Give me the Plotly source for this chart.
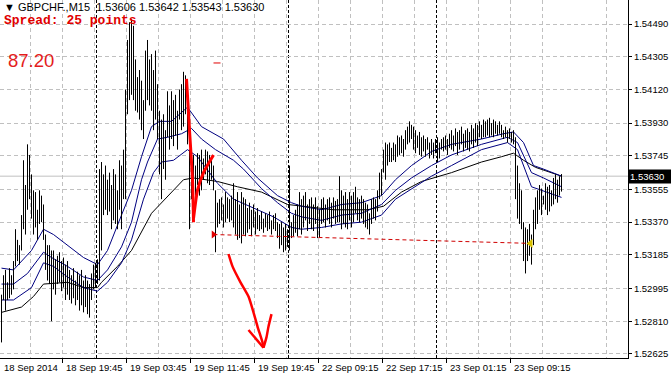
import plotly.graph_objects as go

# ---------------- data ----------------
SYMBOL_TEXT = "\u25BC GBPCHF.,M15&nbsp; 1.53606 1.53642 1.53543 1.53630"
SPREAD_TEXT = "Spread: 25 points"
BIG_TEXT = "87.20"
LAST_PRICE = 1.53630

HIGH = [
    1.5296, 1.5307, 1.5310, 1.5303, 1.5311, 1.5307, 1.5315, 1.5333, 1.5327, 1.5324,
    1.5341, 1.5372, 1.5358, 1.5381, 1.5375, 1.5364, 1.5355, 1.5354, 1.5344, 1.5355,
    1.5352, 1.5347, 1.5330, 1.5324, 1.5324, 1.5321, 1.5321, 1.5316, 1.5318, 1.5320,
    1.5315, 1.5317, 1.5313, 1.5315, 1.5310, 1.5307, 1.5311, 1.5304, 1.5309, 1.5307,
    1.5310, 1.5304, 1.5307, 1.5304, 1.5302, 1.5308, 1.5313, 1.5314, 1.5316, 1.5367,
    1.5371, 1.5364, 1.5369, 1.5361, 1.5365, 1.5358, 1.5367, 1.5364, 1.5355, 1.5372,
    1.5369, 1.5378, 1.5412, 1.5440, 1.5450, 1.5452, 1.5448, 1.5429, 1.5419, 1.5423,
    1.5417, 1.5406, 1.5434, 1.5440, 1.5429, 1.5432, 1.5423, 1.5434, 1.5415, 1.5400,
    1.5395, 1.5398, 1.5389, 1.5411, 1.5403, 1.5411, 1.5406, 1.5409, 1.5400, 1.5412,
    1.5415, 1.5422, 1.5420, 1.5406, 1.5378, 1.5372, 1.5375, 1.5369, 1.5376, 1.5375,
    1.5378, 1.5373, 1.5378, 1.5377, 1.5375, 1.5372, 1.5369, 1.5355, 1.5348, 1.5350,
    1.5351, 1.5347, 1.5354, 1.5351, 1.5350, 1.5352, 1.5359, 1.5350, 1.5354, 1.5347,
    1.5354, 1.5351, 1.5350, 1.5345, 1.5348, 1.5344, 1.5347, 1.5343, 1.5345, 1.5341,
    1.5343, 1.5339, 1.5342, 1.5341, 1.5343, 1.5338, 1.5341, 1.5342, 1.5337, 1.5336,
    1.5337, 1.5334, 1.5336, 1.5333, 1.5369, 1.5337, 1.5341, 1.5344, 1.5347, 1.5354,
    1.5350, 1.5352, 1.5354, 1.5347, 1.5350, 1.5351, 1.5347, 1.5351, 1.5346, 1.5344,
    1.5350, 1.5351, 1.5347, 1.5350, 1.5351, 1.5348, 1.5351, 1.5349, 1.5350, 1.5363,
    1.5355, 1.5352, 1.5354, 1.5350, 1.5354, 1.5352, 1.5354, 1.5357, 1.5351, 1.5350,
    1.5352, 1.5350, 1.5348, 1.5347, 1.5342, 1.5350, 1.5351, 1.5350, 1.5355, 1.5365,
    1.5367, 1.5378, 1.5382, 1.5381, 1.5382, 1.5379, 1.5382, 1.5381, 1.5386, 1.5385,
    1.5386, 1.5384, 1.5389, 1.5391, 1.5394, 1.5392, 1.5391, 1.5389, 1.5386, 1.5388,
    1.5385, 1.5386, 1.5384, 1.5385, 1.5382, 1.5384, 1.5382, 1.5384, 1.5385, 1.5382,
    1.5384, 1.5385, 1.5386, 1.5384, 1.5387, 1.5389, 1.5386, 1.5390, 1.5388, 1.5389,
    1.5391, 1.5387, 1.5389, 1.5390, 1.5388, 1.5392, 1.5390, 1.5393, 1.5392, 1.5394,
    1.5392, 1.5395, 1.5394, 1.5395, 1.5396, 1.5393, 1.5395, 1.5394, 1.5392, 1.5394,
    1.5392, 1.5389, 1.5391, 1.5389, 1.5390, 1.5388, 1.5389, 1.5385, 1.5369, 1.5359,
    1.5355, 1.5337, 1.5334, 1.5333, 1.5336, 1.5330, 1.5344, 1.5351, 1.5355, 1.5358,
    1.5356, 1.5352, 1.5359, 1.5357, 1.5358, 1.5355, 1.5362, 1.5364, 1.5361, 1.5363,
    1.53642,
]

LOW = [
    1.5269, 1.5293, 1.5287, 1.5293, 1.5294, 1.5296, 1.5299, 1.5312, 1.5315, 1.5313,
    1.5321, 1.5333, 1.5330, 1.5344, 1.5350, 1.5339, 1.5330, 1.5334, 1.5327, 1.5336,
    1.5337, 1.5327, 1.5310, 1.5304, 1.5302, 1.5281, 1.5299, 1.5296, 1.5302, 1.5303,
    1.5298, 1.5300, 1.5293, 1.5296, 1.5293, 1.5291, 1.5294, 1.5290, 1.5293, 1.5287,
    1.5290, 1.5286, 1.5289, 1.5285, 1.5283, 1.5293, 1.5299, 1.5300, 1.5302, 1.5304,
    1.5321, 1.5341, 1.5344, 1.5341, 1.5343, 1.5333, 1.5338, 1.5336, 1.5333, 1.5344,
    1.5333, 1.5350, 1.5350, 1.5398, 1.5406, 1.5409, 1.5406, 1.5400, 1.5399, 1.5395,
    1.5389, 1.5384, 1.5400, 1.5406, 1.5403, 1.5400, 1.5389, 1.5395, 1.5384, 1.5364,
    1.5350, 1.5367, 1.5361, 1.5385, 1.5378, 1.5384, 1.5380, 1.5386, 1.5378, 1.5395,
    1.5389, 1.5391, 1.5398, 1.5381, 1.5333, 1.5350, 1.5355, 1.5352, 1.5358, 1.5352,
    1.5355, 1.5361, 1.5364, 1.5359, 1.5358, 1.5361, 1.5355, 1.5320, 1.5334, 1.5336,
    1.5338, 1.5334, 1.5337, 1.5339, 1.5337, 1.5338, 1.5334, 1.5330, 1.5327, 1.5328,
    1.5325, 1.5330, 1.5329, 1.5331, 1.5333, 1.5329, 1.5334, 1.5330, 1.5333, 1.5332,
    1.5333, 1.5331, 1.5334, 1.5332, 1.5333, 1.5330, 1.5333, 1.5332, 1.5328, 1.5322,
    1.5324, 1.5320, 1.5321, 1.5323, 1.5321, 1.5328, 1.5329, 1.5331, 1.5329, 1.5333,
    1.5330, 1.5334, 1.5338, 1.5332, 1.5336, 1.5333, 1.5332, 1.5336, 1.5328, 1.5328,
    1.5336, 1.5337, 1.5334, 1.5338, 1.5336, 1.5334, 1.5339, 1.5336, 1.5337, 1.5337,
    1.5333, 1.5336, 1.5334, 1.5333, 1.5338, 1.5334, 1.5337, 1.5342, 1.5338, 1.5337,
    1.5339, 1.5336, 1.5334, 1.5333, 1.5330, 1.5336, 1.5339, 1.5338, 1.5343, 1.5350,
    1.5352, 1.5365, 1.5361, 1.5369, 1.5371, 1.5371, 1.5372, 1.5371, 1.5374, 1.5375,
    1.5376, 1.5374, 1.5378, 1.5381, 1.5382, 1.5384, 1.5378, 1.5376, 1.5379, 1.5375,
    1.5374, 1.5377, 1.5374, 1.5378, 1.5373, 1.5375, 1.5373, 1.5376, 1.5371, 1.5373,
    1.5378, 1.5377, 1.5378, 1.5375, 1.5379, 1.5378, 1.5377, 1.5380, 1.5375, 1.5378,
    1.5381, 1.5377, 1.5379, 1.5378, 1.5377, 1.5381, 1.5379, 1.5382, 1.5380, 1.5385,
    1.5384, 1.5385, 1.5385, 1.5386, 1.5385, 1.5386, 1.5385, 1.5387, 1.5386, 1.5387,
    1.5385, 1.5384, 1.5385, 1.5382, 1.5384, 1.5382, 1.5381, 1.5350, 1.5339, 1.5336,
    1.5333, 1.5315, 1.5308, 1.5315, 1.5318, 1.5313, 1.5324, 1.5333, 1.5336, 1.5344,
    1.5341, 1.5347, 1.5344, 1.5341, 1.5343, 1.5346, 1.5347, 1.5350, 1.5348, 1.5352,
    1.53543,
]

# moving-average lines (bar index, price)
MA_UP_X = [0, 6, 15, 21, 26, 33, 41, 48, 53, 60, 65, 70, 75, 79, 85, 90, 93, 100, 111, 120,
           128, 138, 145, 150, 160, 170, 180, 190, 197, 205, 215, 225, 240, 251, 256, 261,
           266, 271, 280]
MA_UP_Y = [1.5311, 1.5310, 1.5321, 1.5333, 1.5330, 1.5324, 1.5317, 1.5313, 1.5321, 1.5341,
           1.5355, 1.5374, 1.5391, 1.5394, 1.5394, 1.5399, 1.5402, 1.5391, 1.5384, 1.5372,
           1.5362, 1.5352, 1.5348, 1.5346, 1.5344, 1.5347, 1.5348, 1.5352, 1.5361, 1.5369,
           1.5377, 1.5381, 1.5384, 1.5387, 1.5388, 1.5382, 1.5369, 1.5367, 1.5363]

MA_MID_X = [0, 6, 13, 21, 25, 33, 41, 48, 53, 60, 65, 70, 73, 78, 83, 90, 95, 100, 107, 116,
            121, 130, 138, 145, 150, 160, 170, 180, 190, 197, 205, 215, 225, 240, 253, 258,
            265, 271, 280]
MA_MID_Y = [1.5302, 1.5302, 1.5308, 1.5320, 1.5317, 1.5312, 1.5306, 1.5304, 1.5310, 1.5323,
            1.5337, 1.5361, 1.5371, 1.5384, 1.5385, 1.5387, 1.5390, 1.5384, 1.5378, 1.5372,
            1.5367, 1.5356, 1.5348, 1.5342, 1.5340, 1.5338, 1.5341, 1.5342, 1.5347, 1.5355,
            1.5362, 1.5369, 1.5375, 1.5381, 1.5385, 1.5382, 1.5365, 1.5362, 1.5357]

MA_LOW_X = [0, 6, 15, 21, 26, 33, 41, 48, 53, 60, 65, 71, 76, 80, 86, 93, 98, 108, 116, 128,
            136, 145, 150, 160, 170, 180, 190, 197, 205, 215, 225, 240, 253, 258, 265, 273, 280]
MA_LOW_Y = [1.5293, 1.5293, 1.5300, 1.5314, 1.5312, 1.5306, 1.5300, 1.5298, 1.5303, 1.5314,
            1.5327, 1.5350, 1.5365, 1.5371, 1.5372, 1.5378, 1.5374, 1.5359, 1.5350, 1.5344,
            1.5340, 1.5334, 1.5333, 1.5334, 1.5336, 1.5337, 1.5341, 1.5350, 1.5356, 1.5363,
            1.5369, 1.5378, 1.5382, 1.5378, 1.5357, 1.5354, 1.5351]

MA_SLOW_X = [0, 10, 16, 21, 33, 41, 48, 50, 58, 65, 75, 85, 91, 96, 108, 118, 130, 143, 151,
             166, 183, 191, 200, 210, 225, 240, 250, 256, 261, 267, 280]
MA_SLOW_Y = [1.5286, 1.5289, 1.5295, 1.5302, 1.5303, 1.5300, 1.5300, 1.5303, 1.5312, 1.5321,
             1.5342, 1.5354, 1.5361, 1.5362, 1.5360, 1.5357, 1.5354, 1.5347, 1.5346, 1.5344,
             1.5344, 1.5346, 1.5354, 1.5360, 1.5365, 1.5371, 1.5374, 1.5376, 1.5372, 1.5368,
             1.5363]

# hand drawings (bar index, price)
STROKE1_X = [92.5, 94, 95.5, 96]
STROKE1_Y = [1.5418, 1.5389, 1.5361, 1.5337]
STROKE2_X = [96, 98, 101, 106]
STROKE2_Y = [1.5339, 1.5355, 1.5365, 1.5375]
ARROW_X = [113.5, 115.5, 119.5, 123.5, 126, 128, 130.5, 131]
ARROW_Y = [1.5319, 1.5312, 1.5303, 1.5295, 1.5286, 1.5278, 1.5269, 1.5266]
HEAD_L_X = [123.5, 131]
HEAD_L_Y = [1.5276, 1.5266]
HEAD_R_X = [131, 132.5, 133.5, 135]
HEAD_R_Y = [1.5266, 1.5272, 1.5278, 1.5285]
TREND_X = [106, 264.5]
TREND_Y = [1.5330, 1.5325]
DASH_X = [106, 109.5]
DASH_Y = [1.5427, 1.5427]

# axes
PRICE_TICKS = [1.54490, 1.54305, 1.54120, 1.53930, 1.53745, 1.53555,
               1.53370, 1.53185, 1.52995, 1.52810, 1.52625]
TIME_LABELS = ["18 Sep 2014", "18 Sep 19:45", "19 Sep 03:45", "19 Sep 11:45",
               "19 Sep 19:45", "22 Sep 09:15", "22 Sep 17:15", "23 Sep 01:15",
               "23 Sep 09:15"]
TIME_POS = [-0.5, 30.5, 62.5, 94.5, 126.5, 158.5, 190.5, 222.5, 254.5]
DAY_SEPARATORS = [47.5, 143.5, 217.5]

# ---------------- figure ----------------
W, H = 671, 391
ML, MR, MT, MB = 0, 43, 0, 33
PH = H - MT - MB
FONT = "Liberation Sans, Arial, sans-serif"

fig = go.Figure()

n = min(len(HIGH), len(LOW))
bx, by = [], []
for i in range(n):
    bx += [i, i, None]
    by += [LOW[i], HIGH[i], None]

for xs, ys, col in [(MA_SLOW_X, MA_SLOW_Y, "#000000"),
                    (MA_UP_X, MA_UP_Y, "#000080"),
                    (MA_MID_X, MA_MID_Y, "#000080"),
                    (MA_LOW_X, MA_LOW_Y, "#000080")]:
    fig.add_trace(go.Scatter(x=xs, y=ys, mode="lines", line=dict(color=col, width=1),
                             hoverinfo="skip", showlegend=False))

fig.add_trace(go.Scatter(x=bx, y=by, mode="lines", line=dict(color="#000000", width=1),
                         hoverinfo="skip", showlegend=False, connectgaps=False))

fig.add_trace(go.Scatter(x=TREND_X, y=TREND_Y, mode="lines",
                         line=dict(color="#d00000", width=1, dash="4px,3px"),
                         hoverinfo="skip", showlegend=False))
fig.add_trace(go.Scatter(x=DASH_X, y=DASH_Y, mode="lines",
                         line=dict(color="#e00000", width=1),
                         hoverinfo="skip", showlegend=False))

for xs, ys, wd in [(STROKE1_X, STROKE1_Y, 3), (STROKE2_X, STROKE2_Y, 3),
                   (ARROW_X, ARROW_Y, 2.5), (HEAD_L_X, HEAD_L_Y, 2.5),
                   (HEAD_R_X, HEAD_R_Y, 2.5)]:
    fig.add_trace(go.Scatter(x=xs, y=ys, mode="lines",
                             line=dict(color="#ff0000", width=wd, shape="spline", smoothing=0.6),
                             hoverinfo="skip", showlegend=False))

fig.add_trace(go.Scatter(x=[TREND_X[0]], y=[TREND_Y[0]], mode="markers",
                         marker=dict(symbol="triangle-right", size=7, color="#e00000"),
                         hoverinfo="skip", showlegend=False))
fig.add_trace(go.Scatter(x=[TREND_X[1]], y=[TREND_Y[1]], mode="markers",
                         marker=dict(symbol="triangle-left", size=8, color="#d8c000"),
                         hoverinfo="skip", showlegend=False))

shapes = []
shapes.append(dict(type="line", xref="paper", x0=0, x1=1, yref="y", y0=LAST_PRICE, y1=LAST_PRICE,
                   line=dict(color="#c0c0c0", width=1), layer="below"))
for d in DAY_SEPARATORS:
    shapes.append(dict(type="line", xref="x", x0=d, x1=d, yref="paper", y0=0, y1=1,
                       line=dict(color="#000000", width=1, dash="3px,2px"), layer="below"))

annotations = []
for p, t in zip(TIME_POS, TIME_LABELS):
    annotations.append(dict(x=p, xref="x", y=(PH - 367) / PH,
                            yref="paper", text=t, showarrow=False, xanchor="left",
                            yanchor="middle", xshift=1,
                            font=dict(family=FONT, size=9.5, color="#000000")))
annotations.append(dict(x=0, xref="paper", xshift=2, y=1 - 7 / PH, yref="paper",
                        text=SYMBOL_TEXT, showarrow=False, xanchor="left", yanchor="middle",
                        font=dict(family=FONT, size=11, color="#000000")))
annotations.append(dict(x=0, xref="paper", xshift=2, y=1 - 20 / PH, yref="paper",
                        text="<b>" + SPREAD_TEXT + "</b>", showarrow=False, xanchor="left",
                        yanchor="middle",
                        font=dict(family="Liberation Mono, Courier New, monospace", size=13,
                                  color="#e00000")))
annotations.append(dict(x=0, xref="paper", xshift=6, y=1 - 61 / PH, yref="paper",
                        text=BIG_TEXT, showarrow=False, xanchor="left", yanchor="middle",
                        font=dict(family=FONT, size=18.5, color="#e41c1c")))
annotations.append(dict(x=1, xref="paper", y=LAST_PRICE, yref="y", text="%.5f" % LAST_PRICE,
                        showarrow=False, xanchor="left", yanchor="middle", bgcolor="#000000",
                        borderpad=1, width=41, align="left",
                        font=dict(family=FONT, size=9.5, color="#ffffff")))

fig.update_layout(
    width=W, height=H,
    margin=dict(l=ML, r=MR, t=MT, b=MB, pad=0),
    paper_bgcolor="#ffffff", plot_bgcolor="#ffffff",
    showlegend=False,
    shapes=shapes, annotations=annotations,
    xaxis=dict(range=[-0.75, 313.25], showgrid=True, gridcolor="#c0c0c0", griddash="4px,3px",
               gridwidth=1, tickvals=TIME_POS[1:], showticklabels=False, ticks="outside",
               ticklen=4, tickcolor="#000000", showline=True, linecolor="#000000", linewidth=1,
               zeroline=False, fixedrange=True,
               minor=dict(tickvals=[p - 16 for p in TIME_POS[1:]] + [TIME_POS[-1] + 16, TIME_POS[-1] + 48],
                          showgrid=True, gridcolor="#c0c0c0", griddash="4px,3px", ticks="")),
    yaxis=dict(range=[1.52602, 1.54626], side="right", tickvals=PRICE_TICKS,
               ticktext=["%.5f" % v for v in PRICE_TICKS], showgrid=True, gridcolor="#c0c0c0",
               griddash="4px,3px", ticks="outside", ticklen=3, tickcolor="#000000",
               showline=True, linecolor="#000000", linewidth=1, zeroline=False,
               tickfont=dict(family=FONT, size=9.5, color="#000000"), fixedrange=True),
)

fig.write_html("out.html")
